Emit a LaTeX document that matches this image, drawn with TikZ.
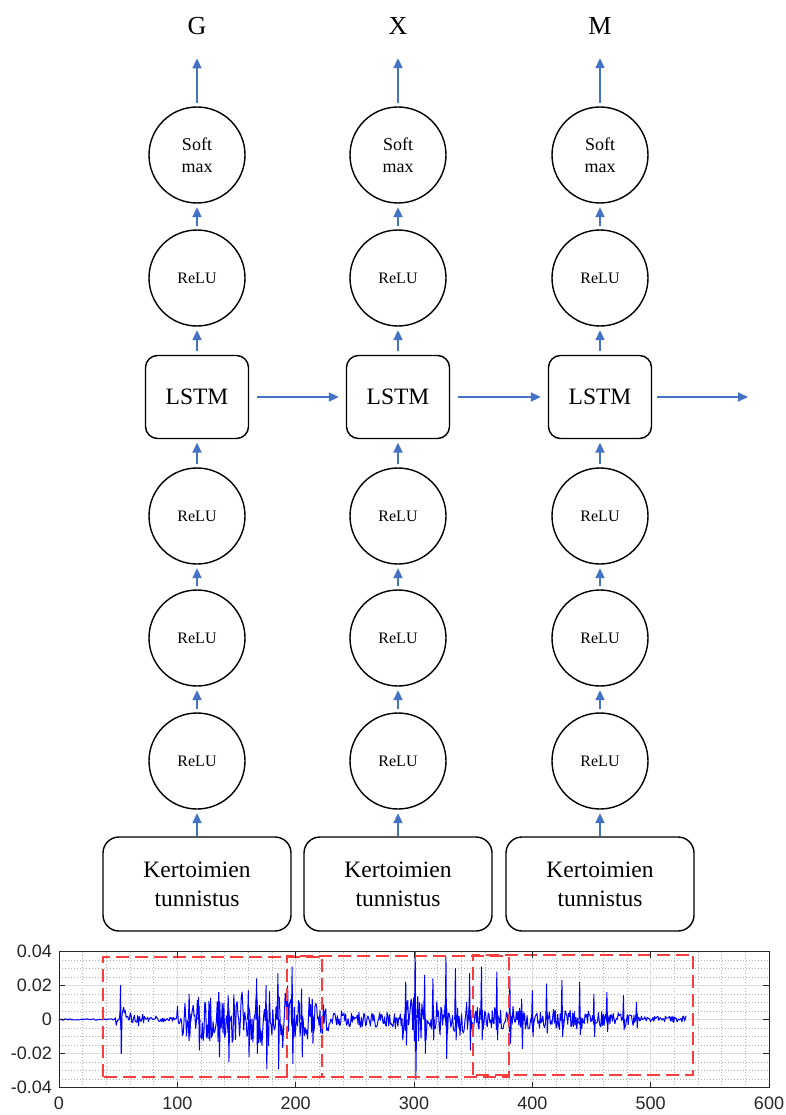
\documentclass[tikz,border=0pt]{standalone}
\usepackage{fontspec}
\setmainfont{Liberation Serif}
\newfontfamily\axisfont{Liberation Sans}
\usetikzlibrary{arrows.meta}

\definecolor{flowblue}{HTML}{4472C4}
\definecolor{sigblue}{RGB}{0,0,255}
\definecolor{boxred}{RGB}{250,60,60}
\definecolor{axisgray}{RGB}{38,38,38}
\definecolor{gridgray}{RGB}{222,222,222}
\definecolor{minorgray}{RGB}{175,175,175}

\begin{document}
\begin{tikzpicture}[x=1pt,y=-1pt,
  flow/.style={draw=flowblue, line width=2pt,
    -{Triangle[length=10pt,width=9pt]}, shorten >=3.5pt, shorten <=3.5pt},
  unit/.style={circle, draw, line width=1.4pt, minimum size=96pt, inner sep=0pt,
    align=center, font=\fontsize{16}{19}\selectfont},
  softunit/.style={unit, font=\fontsize{18}{22}\selectfont},
  cell/.style={draw, line width=1.4pt, rounded corners=12pt, minimum width=103pt,
    minimum height=83pt, inner sep=0pt, font=\fontsize{23.5}{28}\selectfont},
  feat/.style={draw, line width=1.4pt, rounded corners=16pt, minimum width=188pt,
    minimum height=94pt, inner sep=0pt, align=center,
    font=\fontsize{23.5}{29}\selectfont},
  outlab/.style={anchor=base, inner sep=0pt, font=\fontsize{26}{30}\selectfont},
  sig/.style={draw=sigblue, line width=1pt, line join=round},
  redbox/.style={draw=boxred, line width=1.8pt, dash pattern=on 13pt off 6pt},
  majorgrid/.style={draw=gridgray, line width=0.9pt},
  minorgrid/.style={draw=minorgray, line width=0.6pt, dash pattern=on 0.6pt off 2.4pt},
  ticklab/.style={inner sep=0pt, text=axisgray, font=\axisfont\fontsize{18}{20}\selectfont},
  declare function={
    amp(\t)=ifthenelse(\t<47, 0.5,
            ifthenelse(\t<57, 8,
            ifthenelse(\t<100, 1.6+4.5*exp(-(\t-57)/14),
            ifthenelse(\t<185, 12+12*(\t-100)/85,
            ifthenelse(\t<228, 24-15*(\t-185)/43,
            ifthenelse(\t<290, 6,
            ifthenelse(\t<318, 19,
            ifthenelse(\t<385, 12-3*(\t-318)/67,
            ifthenelse(\t<490, 9-4*(\t-385)/105, 2.4)))))))));
  }]

\fill[white] (0,0) rectangle (785,1115);
\useasboundingbox (0,0) rectangle (785,1115);

% ---------- network: three time steps ----------
\foreach \c/\xx/\lab in {1/197/G, 2/398/X, 3/600/M} {
  \node[outlab]   (out\c) at (\xx,35)  {\lab};
  \node[softunit] (sm\c)  at (\xx,155) {Soft\\max};
  \node[unit]     (ra\c)  at (\xx,278) {ReLU};
  \node[cell]     (ls\c)  at (\xx,397) {LSTM};
  \node[unit]     (rb\c)  at (\xx,516) {ReLU};
  \node[unit]     (rc\c)  at (\xx,638) {ReLU};
  \node[unit]     (rd\c)  at (\xx,761) {ReLU};
  \node[feat]     (kt\c)  at (\xx,884) {Kertoimien\\tunnistus};

  \draw[flow, shorten <=0pt] (kt\c.north) -- (rd\c.south);
  \draw[flow] (rd\c.north) -- (rc\c.south);
  \draw[flow] (rc\c.north) -- (rb\c.south);
  \draw[flow] (rb\c.north) -- (ls\c.south);
  \draw[flow] (ls\c.north) -- (ra\c.south);
  \draw[flow] (ra\c.north) -- (sm\c.south);
  \draw[flow, shorten >=23pt] (sm\c.north) -- (out\c.south);
}

% recurrent state passed along the sequence
\coordinate (tail) at (748,397);
\draw[flow, shorten <=8pt, shorten >=7pt] (ls1.east) -- (ls2.west);
\draw[flow, shorten <=8pt, shorten >=7pt] (ls2.east) -- (ls3.west);
\draw[flow, shorten <=5pt, shorten >=0pt] (ls3.east) -- (tail);

% ---------- waveform plot ----------
\begin{scope}[shift={(59,1019.5)}]
\begin{scope}[x=1.18333pt, y=1.7pt]
  % grid
  \foreach \gx in {20,40,...,580}
    \draw[minorgrid] (\gx,-40) -- (\gx,40);
  \foreach \gy in {-35,-30,...,35}
    \draw[minorgrid] (0,\gy) -- (600,\gy);
  \foreach \gx in {100,200,...,500}
    \draw[majorgrid] (\gx,-40) -- (\gx,40);
  \foreach \gy in {-20,0,20}
    \draw[majorgrid] (0,\gy) -- (600,\gy);

  % signal (amplitude in thousandths)
  \pgfmathsetseed{4711}
  \draw[sig] plot[domain=0:530, samples=758] (\x, {amp(\x)*rand*(0.55+0.45*rnd)});
  \foreach \p/\h/\l in {
      52/20/-20, 110/15/-10, 118/13/-18, 135/16/-22, 143/14/-25, 160/17/-22,
      167/24/-20, 175/20/-29, 185/27/-29, 197/31/-26, 205/18/-22, 214/12/-14,
      293/22/-15, 301/40/-35, 309/26/-20, 316/24/-12, 327/37/-23, 335/30/-12,
      347/27/-18, 357/31/-12, 370/28/-12, 381/25/-14, 391/12/-17, 400/17/-10,
      412/21/-8, 425/23/-10, 440/22/-9, 452/15/-10, 463/16/-7, 477/14/-6,
      488/10/-5}
    \draw[sig] (\p-0.6,0) -- (\p,\h) -- (\p+0.6,\l) -- (\p+1.2,0);

  % segment windows
  \draw[redbox] (37,-33.6) rectangle (222.5,37);
  \draw[redbox] (193,-33.6) rectangle (380,37.2);
  \draw[redbox] (349.6,-32.6) rectangle (536,38);

  % axes frame and ticks
  \draw[axisgray, line width=1pt] (0,-40) rectangle (600,40);
  \foreach \gx in {0,100,...,600} {
    \draw[axisgray, line width=0.8pt] (\gx,-40) -- ++(0pt,6pt);
    \draw[axisgray, line width=0.8pt] (\gx,40) -- ++(0pt,-6pt);
    \node[ticklab, anchor=north] (xt\gx) at ([yshift=-9pt]\gx,-40) {\gx};
  }
  \foreach \gy/\txt in {-40/-0.04, -20/-0.02, 0/0, 20/0.02, 40/0.04} {
    \draw[axisgray, line width=0.8pt] (0,\gy) -- ++(6pt,0pt);
    \draw[axisgray, line width=0.8pt] (600,\gy) -- ++(-6pt,0pt);
    \node[ticklab, anchor=east] (yt\gy) at ([xshift=-7pt]0,\gy) {\txt};
  }
\end{scope}
\end{scope}

\end{tikzpicture}
\end{document}
